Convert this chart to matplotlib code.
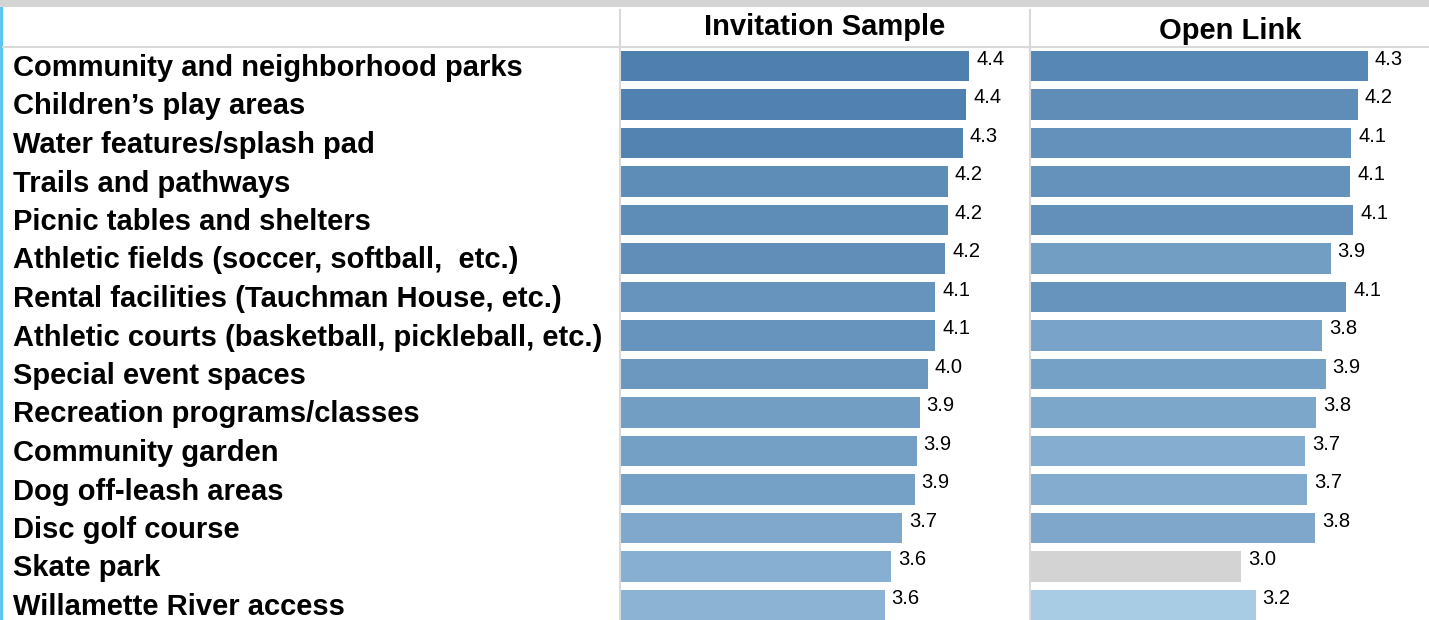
import matplotlib
matplotlib.use('Agg')
import matplotlib.pyplot as plt
from matplotlib.colors import LinearSegmentedColormap
from matplotlib.lines import Line2D
from matplotlib.patches import Rectangle
from matplotlib.transforms import blended_transform_factory
import numpy as np

plt.rcParams['font.family'] = ['Liberation Sans', 'DejaVu Sans']

categories = [
    'Community and neighborhood parks',
    'Children\u2019s play areas',
    'Water features/splash pad',
    'Trails and pathways',
    'Picnic tables and shelters',
    'Athletic fields (soccer, softball,  etc.)',
    'Rental facilities (Tauchman House, etc.)',
    'Athletic courts (basketball, pickleball, etc.)',
    'Special event spaces',
    'Recreation programs/classes',
    'Community garden',
    'Dog off-leash areas',
    'Disc golf course',
    'Skate park',
    'Willamette River access',
]
invitation = [4.39, 4.36, 4.33, 4.18, 4.18, 4.16, 4.06, 4.06, 3.99, 3.91, 3.88, 3.86, 3.74, 3.63, 3.57]
open_link = [4.27, 4.17, 4.11, 4.10, 4.13, 3.91, 4.06, 3.83, 3.86, 3.77, 3.66, 3.68, 3.76, 3.04, 3.18]
panel_titles = ['Invitation Sample', 'Open Link']

W, H = 1429, 620
GRID = '#d9d9d9'
PX_PER_UNIT = 103

# value colour scale: neutral grey at 3, darker blue for higher ratings
cmap = LinearSegmentedColormap.from_list(
    'rating', [(0.0, '#d3d3d3'), (0.07, '#d3d3d3'), (0.11, '#abcde6'), (1.0, '#4e7fae')])


def rating_color(v, lo=3.0, hi=4.4):
    return cmap(np.clip((v - lo) / (hi - lo), 0, 1))


fig = plt.figure(figsize=(W / 100, H / 100), dpi=100)

# grey strip at the top and blue edge on the left
fig.add_artist(Rectangle((0, 1 - 7 / H), 1, 7 / H, transform=fig.transFigure,
                         color='#d4d4d4', lw=0))
fig.add_artist(Rectangle((0, 0), 3 / W, 1 - 7 / H, transform=fig.transFigure,
                         color='#5ec5ee', lw=0))

top = 47  # header separator, pixels from top
n = len(categories)
row0, pitch = 66, 38.5
ylim = ((H - row0) / pitch, -(row0 - top) / pitch)

panels = [(620, 410, invitation), (1031, 398, open_link)]
axes = []
for (x0, w, vals), title in zip(panels, panel_titles):
    ax = fig.add_axes([x0 / W, 0, w / W, (H - top) / H])
    ax.set_xlim(1, 1 + w / PX_PER_UNIT)
    ax.set_ylim(*ylim)
    y = np.arange(n)
    ax.barh(y, [v - 1 for v in vals], left=1, height=0.78,
            color=[rating_color(v) for v in vals])
    for yi, v in zip(y, vals):
        ax.annotate(f'{v:.1f}', (v, yi), xytext=(5, 1), textcoords='offset points',
                    va='baseline', ha='left', fontsize=14.5, color='black')
    ax.axis('off')
    axes.append(ax)

fig.text((620 + 410 / 2) / W, 1 - 27 / H, panel_titles[0], ha='center', va='center',
         fontsize=21, fontweight='bold')
fig.text((1031 + 398 / 2) / W, 1 - 31 / H, panel_titles[1], ha='center', va='center',
         fontsize=21, fontweight='bold')

# category labels on the left
trans = blended_transform_factory(fig.transFigure, axes[0].transData)
for i, cat in enumerate(categories):
    axes[0].text(13 / W, i + 10 / pitch, cat, transform=trans, ha='left', va='baseline',
                 fontsize=21, fontweight='bold', color='black', clip_on=False)

# table rules
fig.add_artist(Line2D([3 / W, 1], [1 - top / H] * 2, transform=fig.transFigure,
                      color=GRID, lw=1.5))
for xp in (620, 1030):
    fig.add_artist(Line2D([xp / W] * 2, [0, 1 - 10 / H], transform=fig.transFigure,
                          color=GRID, lw=1.5))

fig.savefig('out.png', dpi=100)
